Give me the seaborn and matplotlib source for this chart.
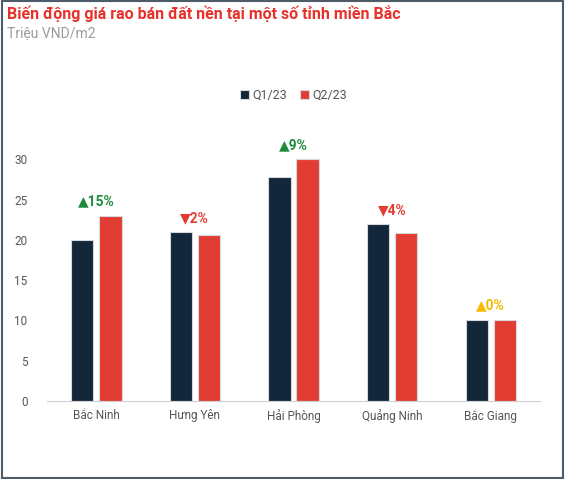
import pandas as pd
import matplotlib
matplotlib.use("Agg")
import matplotlib.pyplot as plt
import seaborn as sns
from matplotlib.patches import Rectangle

provinces = ["Bắc Ninh", "Hưng Yên", "Hải Phòng", "Quảng Ninh", "Bắc Giang"]
q1_23 = [20.0, 21.0, 27.8, 22.0, 10.1]
q2_23 = [23.0, 20.6, 30.0, 20.9, 10.1]
changes = ["▲15%", "▼2%", "▲9%", "▼4%", "▲0%"]
change_colors = ["#1e8b3c", "#e23d32", "#1e8b3c", "#e23d32", "#f6b800"]
periods = ["Q1/23", "Q2/23"]

df = pd.DataFrame({
    "province": provinces * 2,
    "period": [periods[0]] * 5 + [periods[1]] * 5,
    "price": q1_23 + q2_23,
})

sns.set_style("white")
plt.rcParams["font.family"] = ["Roboto", "DejaVu Sans"]

fig = plt.figure(figsize=(5.65, 4.79), dpi=100)
ax = fig.add_axes([0.083, 0.163, 0.873, 0.538])

sns.barplot(data=df, x="province", y="price", hue="period", ax=ax,
            palette=["#13263a", "#e23d32"], width=0.57, gap=0.2,
            edgecolor="#d5d8dc", linewidth=0.8, saturation=1)

ax.set_xlim(-0.5, 4.5)
ax.set_ylim(0, 32)
ax.set_yticks([0, 5, 10, 15, 20, 25, 30])
ax.set_xlabel("")
ax.set_ylabel("")
ax.tick_params(axis="both", length=0, labelsize=8.5, labelcolor="#555555")
ax.tick_params(axis="x", pad=6)
ax.tick_params(axis="y", pad=14)
for s in ["top", "right", "left"]:
    ax.spines[s].set_visible(False)
ax.spines["bottom"].set_color("#d0d0d0")

for i, (a, b) in enumerate(zip(q1_23, q2_23)):
    ax.annotate(changes[i], (i, max(a, b)), xytext=(0, 5), textcoords="offset points",
                ha="center", va="bottom", fontsize=10, fontweight="bold",
                color=change_colors[i])

leg = ax.legend(loc="center", bbox_to_anchor=(0.5, 1.186), ncol=2, frameon=False,
                fontsize=9, handlelength=0.7, handleheight=0.7, handletextpad=0.3,
                columnspacing=1.0)
for t in leg.get_texts():
    t.set_color("#555555")

fig.text(0.012, 0.99, "Biến động giá rao bán đất nền tại một số tỉnh miền Bắc",
         ha="left", va="top", fontsize=11.5, fontweight="bold", color="#e8312a")
fig.text(0.012, 0.944, "Triệu VND/m2", ha="left", va="top", fontsize=10, color="#9a9a9a")

fig.patches.append(Rectangle((0.003, 0.003), 0.994, 0.994, transform=fig.transFigure,
                             fill=False, edgecolor="#4d5c68", linewidth=1.5))

fig.savefig("out.png", dpi=100)
